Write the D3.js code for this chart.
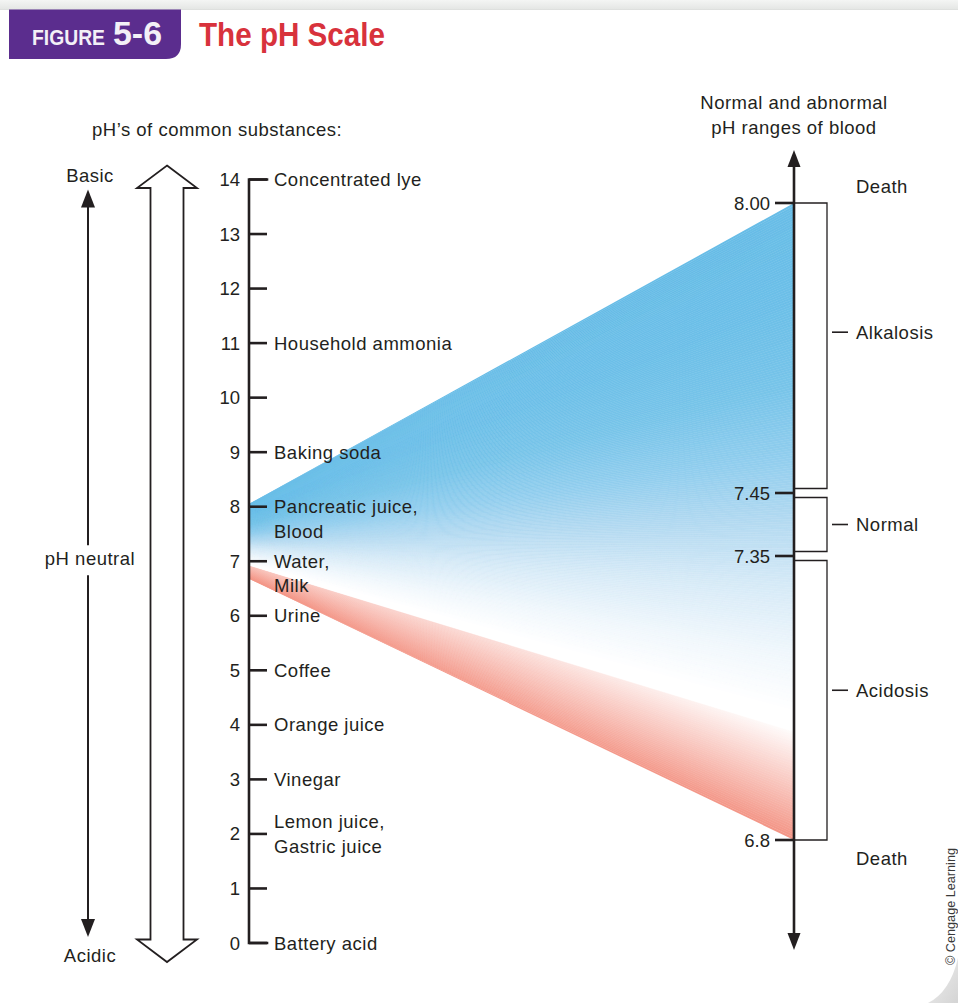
<!DOCTYPE html>
<html><head><meta charset="utf-8">
<script src="https://cdn.jsdelivr.net/npm/d3@7"></script>
<style>html,body{margin:0;padding:0;background:#fff;overflow:hidden}</style>
</head><body><svg id="c" width="958" height="1003"></svg>
<script>
// ---------------- data ----------------
const phTicks = [0,1,2,3,4,5,6,7,8,9,10,11,12,13,14];
const substancePH = [14, 11, 9, 8, 7, 6, 5, 4, 3, 2, 0];
const substanceNames = ["Concentrated lye", "Household ammonia", "Baking soda",
  "Pancreatic juice,|Blood", "Water,|Milk", "Urine", "Coffee", "Orange juice",
  "Vinegar", "Lemon juice,|Gastric juice", "Battery acid"];
const substanceCentered = [false,false,false,false,false,false,false,false,false,true,false];
const bloodTicks = [8.00, 7.45, 7.35, 6.8];
const bloodTickLabels = ["8.00", "7.45", "7.35", "6.8"];
const conditions = ["Alkalosis", "Normal", "Acidosis"];
const conditionRanges = [[7.45, 8.00], [7.35, 7.45], [6.8, 7.35]];
const conditionLabelPH = [7.755, 7.40, 7.09];
const wedgeLeft = [8.05, 6.68];   // pH on the common-substances scale
const wedgeRight = [8.00, 6.8];   // pH on the blood scale

// ---------------- setup ----------------
const svg = d3.select("#c");
const FONT = "'Liberation Sans', Arial, Helvetica, sans-serif";
const INK = "#231f20";
const FS = 18.5, LS = 0.5;
const defs = svg.append("defs");

// page background details
const tb = defs.append("linearGradient").attr("id","topband").attr("x1",0).attr("y1",0).attr("x2",0).attr("y2",1);
tb.append("stop").attr("offset","0").attr("stop-color","#f4f5f4");
tb.append("stop").attr("offset","1").attr("stop-color","#e4e6e4");
svg.append("rect").attr("x",0).attr("y",0).attr("width",958).attr("height",9.5).attr("fill","url(#topband)");
svg.append("line").attr("x1",0).attr("x2",958).attr("y1",9.5).attr("y2",9.5).attr("stroke","#d9dbd9").attr("stroke-width",0.8);
const cg = defs.append("linearGradient").attr("id","curl").attr("x1",0).attr("y1",0).attr("x2",1).attr("y2",1);
cg.append("stop").attr("offset","0").attr("stop-color","#f0f0f0");
cg.append("stop").attr("offset","1").attr("stop-color","#d4d4d4");
svg.append("path").attr("d","M958,958 Q950,992 928,1003 L958,1003 Z").attr("fill","url(#curl)");

// header tab
svg.append("path").attr("d","M9,9.5 H181 V44 Q181,59 166,59 H9 Z").attr("fill","#5b2d8e");
svg.append("text").attr("x",32).attr("y",45).attr("font-family",FONT).attr("font-weight","bold")
  .attr("font-size",22).attr("fill","#f3f0f7").attr("textLength",73).attr("lengthAdjust","spacingAndGlyphs").text("FIGURE");
svg.append("text").attr("x",113).attr("y",45).attr("font-family",FONT).attr("font-weight","bold")
  .attr("font-size",33).attr("fill","#f3f0f7").attr("textLength",49).attr("lengthAdjust","spacingAndGlyphs").text("5-6");
svg.append("text").attr("x",199).attr("y",45.5).attr("font-family",FONT).attr("font-weight","bold")
  .attr("font-size",34).attr("fill","#d8323c").attr("textLength",186).attr("lengthAdjust","spacingAndGlyphs").text("The pH Scale");

// ---------------- scales ----------------
const xL = 249, xR = 794;
const yL = d3.scaleLinear().domain([0, 14]).range([943, 179.5]);
const yR = d3.scaleLinear().domain([6.8, 7.35, 7.45, 8.0]).range([840, 556, 493, 203]);

function txt(g, x, y, s, anchor) {
  return g.append("text").attr("x", x).attr("y", y).attr("font-family", FONT)
    .attr("font-size", FS).attr("letter-spacing", LS).attr("fill", INK)
    .attr("text-anchor", anchor || "start").text(s);
}

// ---------------- wedge ----------------
const wl = wedgeLeft.map(yL), wr = wedgeRight.map(yR);
const blue = d3.scaleLinear()
  .domain([0, 0.15, 0.28, 0.4, 0.5, 0.6, 0.71, 0.8])
  .range(["#68bde7", "#6cbfe8", "#77c4e9", "#92ceee", "#b4daf1", "#d6eaf7", "#f0f7fc", "#ffffff"])
  .interpolate(d3.interpolateRgb).clamp(true);
const red = d3.interpolateRgb("#ffffff", "#ef735f");
const tp = 0.83;
const N = 260;
const wedgeG = svg.append("g");
const strips = d3.range(N).map(i => [i / N, (i + 1) / N]);
strips.forEach(([t0, t1], i) => {
  const a = wl[0] + t0 * (wl[1] - wl[0]), b = wr[0] + t0 * (wr[1] - wr[0]);
  const c = wr[0] + t1 * (wr[1] - wr[0]), d = wl[0] + t1 * (wl[1] - wl[0]);
  const tm = (t0 + t1) / 2;
  let fill;
  if (tm < tp) {
    fill = blue(tm);
  } else {
    const u = (tm - tp) / (1 - tp);
    const gid = "pk" + i;
    const gr = defs.append("linearGradient").attr("id", gid).attr("gradientUnits", "userSpaceOnUse")
      .attr("x1", xL).attr("x2", xR).attr("y1", 0).attr("y2", 0);
    gr.append("stop").attr("offset", 0).attr("stop-color", red(0.42 + 0.36 * u));
    gr.append("stop").attr("offset", 0.55).attr("stop-color", red(0.2 + 0.52 * u));
    gr.append("stop").attr("offset", 1).attr("stop-color", red(0.02 + 0.74 * u));
    fill = "url(#" + gid + ")";
  }
  const inner = i > 0 && i < N - 1;
  wedgeG.append("path")
    .attr("d", `M${xL},${a} L${xR},${b} L${xR},${c} L${xL},${d} Z`)
    .attr("fill", fill)
    .attr("stroke", inner ? fill : "none").attr("stroke-width", 0.5);
});

// ---------------- left side ----------------
const left = svg.append("g");
txt(left, 92, 136, "pH\u2019s of common substances:");
// axis
left.append("path")
  .attr("d", `M${xL + 18},${yL(14)} H${xL} V${yL(0)} H${xL + 18}`)
  .attr("fill", "none").attr("stroke", INK).attr("stroke-width", 2.6).attr("stroke-linejoin", "miter").attr("stroke-linecap","square");
phTicks.forEach(v => {
  left.append("line").attr("x1", xL).attr("x2", xL + 18).attr("y1", yL(v)).attr("y2", yL(v))
    .attr("stroke", INK).attr("stroke-width", 2.6);
  txt(left, 240, yL(v) + 6.5, String(v), "end").attr("letter-spacing", 0);
});
substancePH.forEach((v, i) => {
  const lines = substanceNames[i].split("|");
  const y0 = substanceCentered[i] ? yL(v) + 6.5 - (lines.length - 1) * 24.5 / 2 : yL(v) + 6.5;
  lines.forEach((s, k) => txt(left, 274, y0 + k * 24.5, s));
});

// hollow double arrow
const hx = 167, hw = 30, sw = 16.5;
const hTop = yL(14) - 14, hBot = yL(0) + 19;
left.append("path")
  .attr("d", `M${hx},${hTop} L${hx + hw},${hTop + 22.5} H${hx + sw} V${hBot - 22.5} H${hx + hw} L${hx},${hBot} L${hx - hw},${hBot - 22.5} H${hx - sw} V${hTop + 22.5} H${hx - hw} Z`)
  .attr("fill", "#fff").attr("stroke", INK).attr("stroke-width", 1.8).attr("stroke-linejoin", "miter");

// thin arrow with labels
const ax = 88;
const aTop = yL(14) + 10, aBot = yL(0) - 6;
left.append("line").attr("x1", ax).attr("x2", ax).attr("y1", aTop + 10).attr("y2", aBot - 10)
  .attr("stroke", INK).attr("stroke-width", 2);
left.append("path").attr("d", `M${ax},${aTop} L${ax + 7},${aTop + 18} L${ax - 7},${aTop + 18} Z`).attr("fill", INK);
left.append("path").attr("d", `M${ax},${aBot} L${ax + 7},${aBot - 18} L${ax - 7},${aBot - 18} Z`).attr("fill", INK);
left.append("rect").attr("x", 40).attr("y", yL(7) - 16).attr("width", 100).attr("height", 30).attr("fill", "#fff");
txt(left, 90, yL(7) + 4, "pH neutral", "middle");
txt(left, 90, yL(14) + 2.5, "Basic", "middle");
txt(left, 90, yL(0) + 19, "Acidic", "middle");

// ---------------- right side ----------------
const right = svg.append("g");
txt(right, xR, 109, "Normal and abnormal", "middle");
txt(right, xR, 133.5, "pH ranges of blood", "middle");
const rTop = yR(8.0) - 53, rBot = yR(6.8) + 110;
right.append("line").attr("x1", xR).attr("x2", xR).attr("y1", rTop + 12).attr("y2", rBot - 12)
  .attr("stroke", INK).attr("stroke-width", 2.6);
right.append("path").attr("d", `M${xR},${rTop} L${xR + 6.5},${rTop + 17} L${xR - 6.5},${rTop + 17} Z`).attr("fill", INK);
right.append("path").attr("d", `M${xR},${rBot} L${xR + 6.5},${rBot - 17} L${xR - 6.5},${rBot - 17} Z`).attr("fill", INK);
bloodTicks.forEach((v, i) => {
  right.append("line").attr("x1", 775).attr("x2", xR).attr("y1", yR(v)).attr("y2", yR(v))
    .attr("stroke", INK).attr("stroke-width", 2.6);
  txt(right, 770, yR(v) + 6.5, bloodTickLabels[i], "end").attr("letter-spacing", 0);
});
const ends = d3.extent(bloodTicks);
conditionRanges.forEach(([lo, hi], i) => {
  const yt = yR(hi) + (hi === ends[1] ? 0 : 4.5);
  const yb = yR(lo) - (lo === ends[0] ? 0 : 4.5);
  right.append("path").attr("d", `M${xR},${yt} H827 V${yb} H${xR}`)
    .attr("fill", "none").attr("stroke", INK).attr("stroke-width", 1.3);
  const ly = yR(conditionLabelPH[i]);
  right.append("line").attr("x1", 832).attr("x2", 848).attr("y1", ly).attr("y2", ly)
    .attr("stroke", INK).attr("stroke-width", 1.6);
  txt(right, 856, ly + 6.5, conditions[i]);
});
txt(right, 856, yR(8.0) - 10, "Death");
txt(right, 856, yR(6.8) + 24.5, "Death");

// copyright
svg.append("text").attr("transform", "translate(955,965) rotate(-90)")
  .attr("font-family", FONT).attr("font-size", 13).attr("fill", "#3a3a3a")
  .attr("textLength", 117).attr("lengthAdjust", "spacingAndGlyphs").text("\u00a9 Cengage Learning");
</script></body></html>
